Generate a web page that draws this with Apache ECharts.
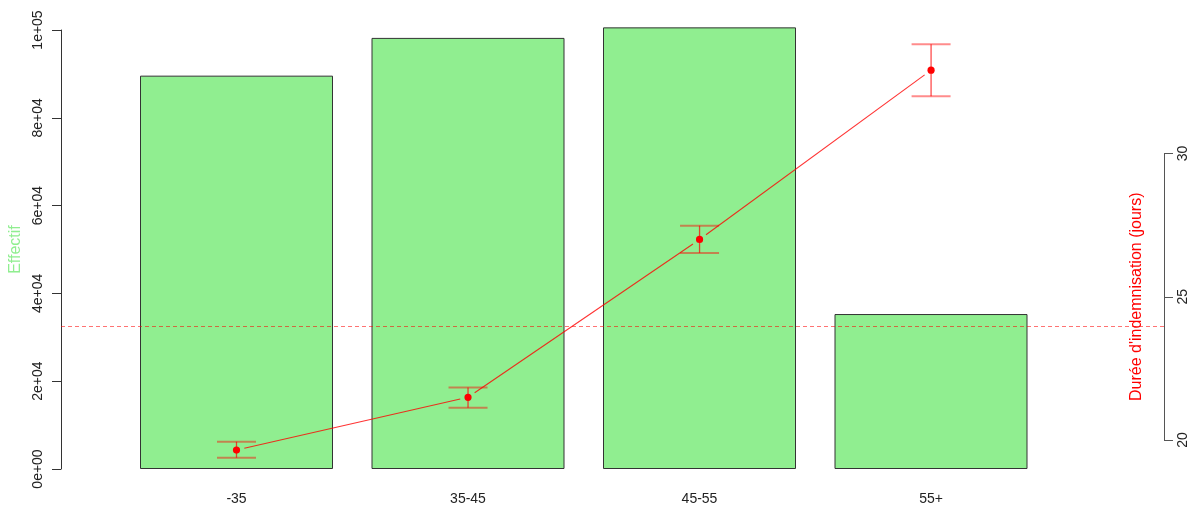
<!DOCTYPE html>
<html>
<head>
<meta charset="utf-8">
<script src="https://cdn.jsdelivr.net/npm/echarts@6/dist/echarts.min.js"></script>
<style>
  html, body { margin: 0; padding: 0; background: #fff; }
  #chart { width: 1204px; height: 509px; }
</style>
</head>
<body>
<div id="chart"></div>
<script>
// Age groups on the x axis
const ageGroups = ['-35', '35-45', '45-55', '55+'];
// Number of people per age group (left axis)
const effectif = [89600, 98200, 100600, 35300];
// Mean compensation duration in days, with its confidence bounds (right axis)
const dureeMoyenne = [19.65, 21.49, 27.00, 32.91];
const dureeBasse = [19.38, 21.13, 26.53, 32.00];
const dureeHaute = [19.94, 21.83, 27.48, 33.81];
// Overall mean duration (dashed reference line)
const dureeGlobale = 23.97;
// Tick labels of the left axis, in R's scientific notation
const effectifTicks = ['0e+00', '2e+04', '4e+04', '6e+04', '8e+04', '1e+05'];
const effectifStep = 20000;

const FONT = 'Liberation Sans, Arial, Helvetica, sans-serif';
const chart = echarts.init(document.getElementById('chart'));

const option = {
  animation: false,
  backgroundColor: '#ffffff',
  textStyle: { fontFamily: FONT },
  grid: [
    { left: 120.75, right: 157.25, top: 30, bottom: 40, outerBoundsMode: 'none', containLabel: false },
    { left: 61, right: 40, top: 153.5, bottom: 69, outerBoundsMode: 'none', containLabel: false }
  ],
  xAxis: [
    {
      type: 'category', gridIndex: 0, data: ageGroups, boundaryGap: true,
      axisLine: { show: false }, axisTick: { show: false },
      axisLabel: { color: '#222', fontSize: 14, margin: 23, fontFamily: FONT }
    },
    {
      type: 'value', gridIndex: 1, min: -0.758, max: 4.006,
      show: false
    }
  ],
  yAxis: [
    {
      type: 'value', gridIndex: 0, position: 'left', offset: 59.75,
      min: 0, max: 100000, interval: effectifStep,
      splitLine: { show: false },
      axisLine: { show: true, onZero: false, lineStyle: { color: '#333', width: 1 } },
      axisTick: { show: true, length: 9, lineStyle: { color: '#333' } },
      axisLabel: {
        rotate: 90, margin: 16, fontSize: 14, color: '#222', fontFamily: FONT,
        formatter: v => effectifTicks[Math.round(v / effectifStep)]
      },
      name: 'Effectif', nameLocation: 'middle', nameRotate: 90, nameGap: 36,
      nameTextStyle: { color: '#90EE90', fontSize: 16, fontFamily: FONT }
    },
    {
      type: 'value', gridIndex: 1, position: 'right',
      min: 20, max: 30, interval: 5,
      splitLine: { show: false },
      axisLine: { show: true, onZero: false, lineStyle: { color: '#555', width: 1 } },
      axisTick: { show: true, length: 9, lineStyle: { color: '#555' } },
      axisLabel: { rotate: 90, margin: 12, fontSize: 14, color: '#222', fontFamily: FONT },
      name: "Durée d'indemnisation (jours)", nameLocation: 'middle', nameRotate: 90,
      nameGap: -35, nameMoveOverlap: false,
      nameTextStyle: { color: '#ff0000', fontSize: 16, fontFamily: FONT }
    }
  ],
  series: [
    {
      type: 'bar', xAxisIndex: 0, yAxisIndex: 0, clip: false,
      data: effectif, barWidth: 193,
      itemStyle: { color: '#90EE90', borderColor: '#333', borderWidth: 1 },
      z: 1
    },
    {
      type: 'custom', xAxisIndex: 1, yAxisIndex: 1, clip: false, z: 5,
      data: ageGroups.map((g, i) => [i, dureeMoyenne[i], dureeBasse[i], dureeHaute[i]]),
      renderItem: function (params, api) {
        const i = params.dataIndex;
        const x = api.value(0);
        const p = api.coord([x, api.value(1)]);
        const lo = api.coord([x, api.value(2)]);
        const hi = api.coord([x, api.value(3)]);
        const capHalf = 19.5;
        const children = [];
        // error bar: stem and caps
        children.push({ type: 'line', shape: { x1: p[0], y1: lo[1], x2: p[0], y2: hi[1] },
          style: { stroke: 'rgba(255,0,0,0.7)', lineWidth: 1.3 } });
        children.push({ type: 'line', shape: { x1: p[0] - capHalf, y1: lo[1], x2: p[0] + capHalf, y2: lo[1] },
          style: { stroke: 'rgba(255,0,0,0.45)', lineWidth: 2 } });
        children.push({ type: 'line', shape: { x1: p[0] - capHalf, y1: hi[1], x2: p[0] + capHalf, y2: hi[1] },
          style: { stroke: 'rgba(255,0,0,0.45)', lineWidth: 2 } });
        // connecting segment to the next group, with a gap around each point
        if (i < ageGroups.length - 1) {
          const q = api.coord([i + 1, dureeMoyenne[i + 1]]);
          const dx = q[0] - p[0], dy = q[1] - p[1];
          const len = Math.hypot(dx, dy), gap = 8;
          children.push({ type: 'line',
            shape: { x1: p[0] + dx / len * gap, y1: p[1] + dy / len * gap,
                     x2: q[0] - dx / len * gap, y2: q[1] - dy / len * gap },
            style: { stroke: 'rgba(255,0,0,0.8)', lineWidth: 1.1 } });
        }
        children.push({ type: 'circle', shape: { cx: p[0], cy: p[1], r: 3.6 },
          style: { fill: '#ff0000' } });
        return { type: 'group', children: children };
      },
      markLine: {
        silent: true, symbol: 'none', label: { show: false },
        lineStyle: { color: 'rgba(255,0,0,0.55)', type: [4, 3], width: 1 },
        data: [{ yAxis: dureeGlobale }]
      }
    }
  ]
};

chart.setOption(option);
</script>
</body>
</html>
